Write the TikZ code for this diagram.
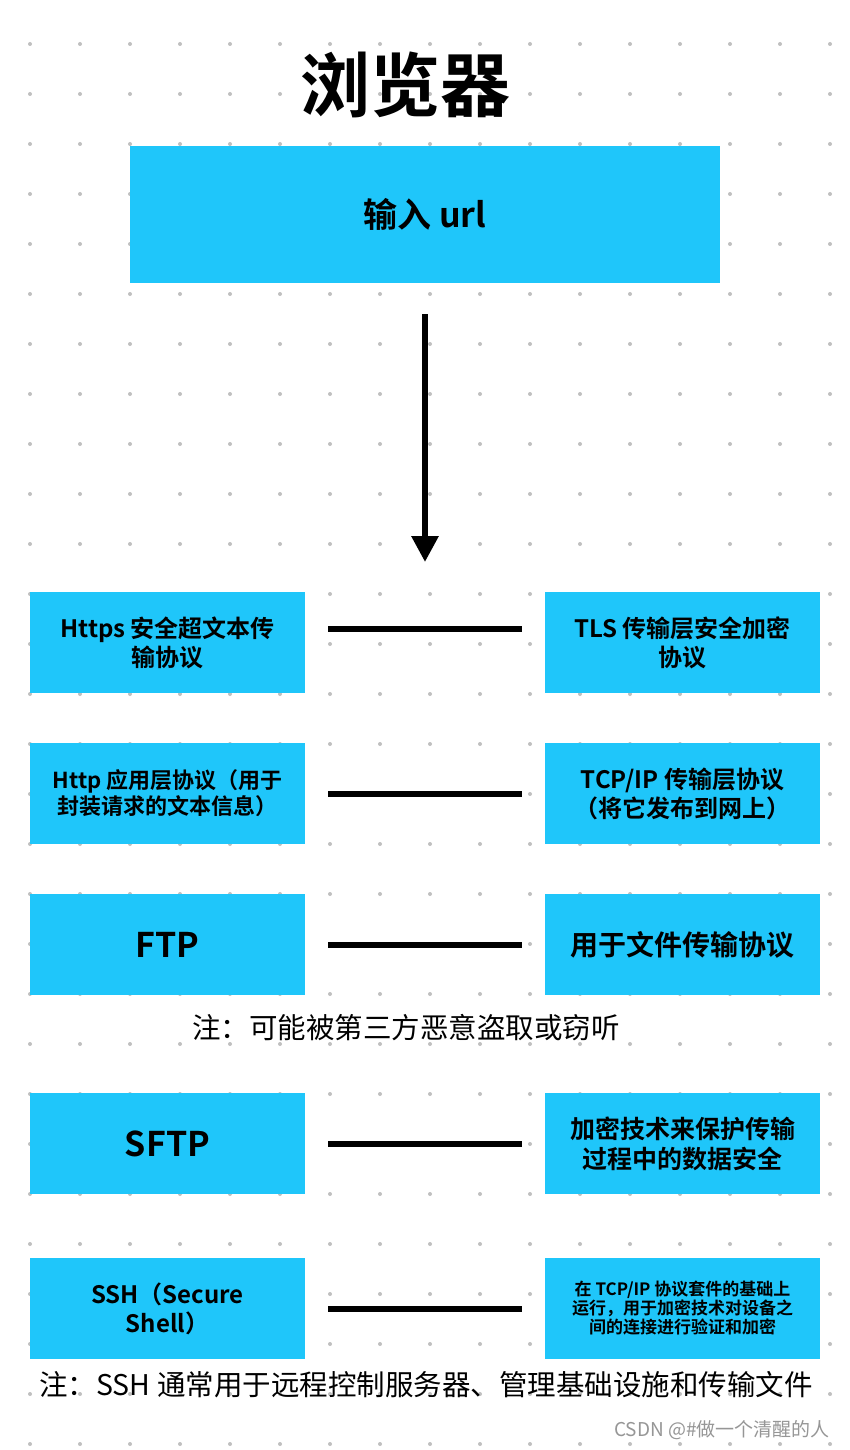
\documentclass[tikz,border=0pt]{standalone}
\usepackage{fontspec}
\setmainfont{Noto Sans CJK SC}
\newfontfamily\boxfont{Noto Sans CJK SC Bold}
\usetikzlibrary{arrows.meta}

\definecolor{boxblue}{RGB}{31,198,250}
\definecolor{dotgray}{RGB}{192,192,192}
\definecolor{markgray}{RGB}{150,150,150}

\begin{document}
\begin{tikzpicture}[x=1pt,y=-1pt]
  % overall canvas
  \useasboundingbox (0,0) rectangle (850,1450);

  % styles
  \tikzset{
    blk/.style={fill=boxblue,minimum width=275pt,minimum height=101pt,inner sep=0pt,
      align=center,font=\boxfont\fontsize{24}{29}\selectfont},
    link/.style={draw=black,line width=6pt,shorten <=23pt,shorten >=23pt},
    note/.style={font=\fontsize{28.5}{33}\selectfont},
  }

  % white background
  \fill[white] (0,0) rectangle (850,1450);

  % dotted grid
  \foreach \y in {44,94,...,1444}
    \foreach \x in {30,80,...,830}
      \fill[dotgray] (\x,\y) circle (2pt);

  % title and input box
  \node[font=\boxfont\fontsize{70}{74}\selectfont] (title) at (405,85) {浏览器};
  \node[blk,minimum width=590pt,minimum height=137pt,
    font=\boxfont\fontsize{34}{40}\selectfont] (url) at (425,214.5) {输入 url};

  % down arrow
  \coordinate (arrtip) at (425,562);
  \draw[line width=6pt,shorten <=31pt,-{Triangle[width=26pt,length=26pt]}] (url.south) -- (arrtip);

  % left column
  \node[blk] (https) at (167.5, 642.5) {Https 安全超文本传\\输协议};
  \node[blk,font=\boxfont\fontsize{22}{26}\selectfont] (http) at (167.5, 793.5)
    {Http 应用层协议（用于\\封装请求的文本信息）};
  \node[blk,font=\boxfont\fontsize{34}{40}\selectfont] (ftp) at (167.5, 944.5) {FTP};
  \node[blk,font=\boxfont\fontsize{34}{40}\selectfont] (sftp) at (167.5,1143.5) {SFTP};
  \node[blk] (ssh) at (167.5,1308.5) {SSH（Secure\\Shell）};

  % right column
  \node[blk] (tls) at (682.5, 642.5) {TLS 传输层安全加密\\协议};
  \node[blk] (tcp) at (682.5, 793.5) {TCP/IP 传输层协议\\（将它发布到网上）};
  \node[blk,font=\boxfont\fontsize{28}{32}\selectfont] (file) at (682.5, 944.5) {用于文件传输协议};
  \node[blk,font=\boxfont\fontsize{25}{30}\selectfont] (enc) at (682.5,1143.5)
    {加密技术来保护传输\\过程中的数据安全};
  \node[blk,font=\boxfont\fontsize{17}{19}\selectfont] (sshinfo) at (682.5,1308.5)
    {在 TCP/IP 协议套件的基础上\\运行，用于加密技术对设备之\\间的连接进行验证和加密};

  % connectors
  \draw[link] ([yshift=13.5pt]https.east) -- ([yshift=13.5pt]tls.west);
  \draw[link] (http.east) -- (tcp.west);
  \draw[link] (ftp.east) -- (file.west);
  \draw[link] (sftp.east) -- (enc.west);
  \draw[link] (ssh.east) -- (sshinfo.west);

  % notes
  \node[note] (note1) at (406,1028) {注：可能被第三方恶意盗取或窃听};
  \node[note] (note2) at (426,1385) {注：SSH 通常用于远程控制服务器、管理基础设施和传输文件};
  \node[font=\fontsize{19}{22}\selectfont,text=markgray] (mark) at (722,1430) {CSDN @\#做一个清醒的人};
\end{tikzpicture}
\end{document}
